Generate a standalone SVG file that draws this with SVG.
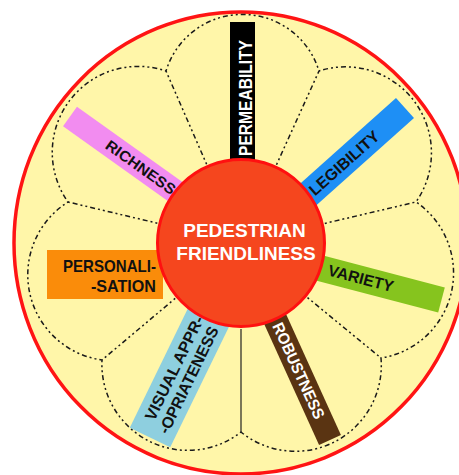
<svg xmlns="http://www.w3.org/2000/svg" width="459" height="475" viewBox="0 0 459 475">
<style>
.lbl{font-family:"Liberation Sans","DejaVu Sans",Arial,sans-serif;font-weight:bold}
.blk{fill:#111}
.wht{fill:#fff}
.dot{fill:none;stroke:#1a1a1a;stroke-width:1.5;stroke-dasharray:2 3 2 3 5 3}
</style>
<rect width="459" height="475" fill="#fff"/>
<g id="disc"><ellipse cx="241" cy="243" rx="227" ry="231" fill="#FFF6A9" stroke="#FF1414" stroke-width="3.5"/></g>
<g id="connectors">
<path class="dot" d="M166,71 A80,80 0 0 1 319,71 A86,86 0 0 1 416,202 A86,86 0 0 1 381,358 A86,86 0 0 1 241,432 A86,86 0 0 1 102,360 A86,86 0 0 1 68,202 A86,86 0 0 1 166,71Z"/>
<path class="dot" d="M206.6,164.2L166,71M276.5,164.7L319,71M324.8,223.4L416,202M307.5,297.6L381,358M175.2,298.4L102,360M157.3,223.2L68,202"/>
<line x1="241" y1="329" x2="241" y2="432" stroke="#222" stroke-width="1.2"/>
</g>
<g id="permeability"><rect x="230" y="22" width="25" height="160" fill="#000"/><text class="lbl wht" font-size="18" transform="translate(252,156) rotate(-90)" textLength="116" lengthAdjust="spacingAndGlyphs">PERMEABILITY</text></g>
<g id="legibility" transform="translate(405,108) rotate(-41.8)"><rect x="-170" y="-13.5" width="170" height="27" fill="#1E8FF5"/><text class="lbl blk" x="-126" y="6" font-size="16" textLength="88" lengthAdjust="spacingAndGlyphs">LEGIBILITY</text></g>
<g id="richness" transform="translate(70,116.5) rotate(35.5)"><rect x="0" y="-12" width="170" height="24" fill="#F28CF0"/><text class="lbl blk" x="46" y="5.5" font-size="15" textLength="82" lengthAdjust="spacingAndGlyphs">RICHNESS</text></g>
<g id="personalisation"><rect x="47" y="250" width="116" height="49" fill="#FA8C0A"/><text class="lbl blk" x="156" y="272" text-anchor="end" font-size="17" textLength="93" lengthAdjust="spacingAndGlyphs">PERSONALI-</text><text class="lbl blk" x="156" y="292" text-anchor="end" font-size="17" textLength="65" lengthAdjust="spacingAndGlyphs">-SATION</text></g>
<g id="variety" transform="translate(441.5,300) rotate(14.7)"><rect x="-170" y="-13" width="170" height="26" fill="#86C41E"/><text class="lbl blk" x="-117" y="5" font-size="16" textLength="67" lengthAdjust="spacingAndGlyphs">VARIETY</text></g>
<g id="robustness" transform="translate(330,440) rotate(65.6)"><rect x="-170" y="-12" width="170" height="24" fill="#5A3412"/><text class="lbl wht" x="-128" y="5.5" font-size="16" textLength="104" lengthAdjust="spacingAndGlyphs">ROBUSTNESS</text></g>
<g id="visual" transform="translate(150,437.5) rotate(-64)"><rect x="0" y="-22.5" width="175" height="45" fill="#8ECFDF"/><text class="lbl blk" x="16" y="-3" font-size="16" textLength="114" lengthAdjust="spacingAndGlyphs">VISUAL APPR-</text><text class="lbl blk" x="10" y="15" font-size="16" textLength="117" lengthAdjust="spacingAndGlyphs">-OPRIATENESS</text></g>
<g id="center"><circle cx="241" cy="243" r="83.5" fill="#F5461E" stroke="#FF1010" stroke-width="3"/><text class="lbl wht" x="244.5" y="237" text-anchor="middle" font-size="19">PEDESTRIAN</text><text class="lbl wht" x="246" y="260" text-anchor="middle" font-size="19">FRIENDLINESS</text></g>
</svg>
